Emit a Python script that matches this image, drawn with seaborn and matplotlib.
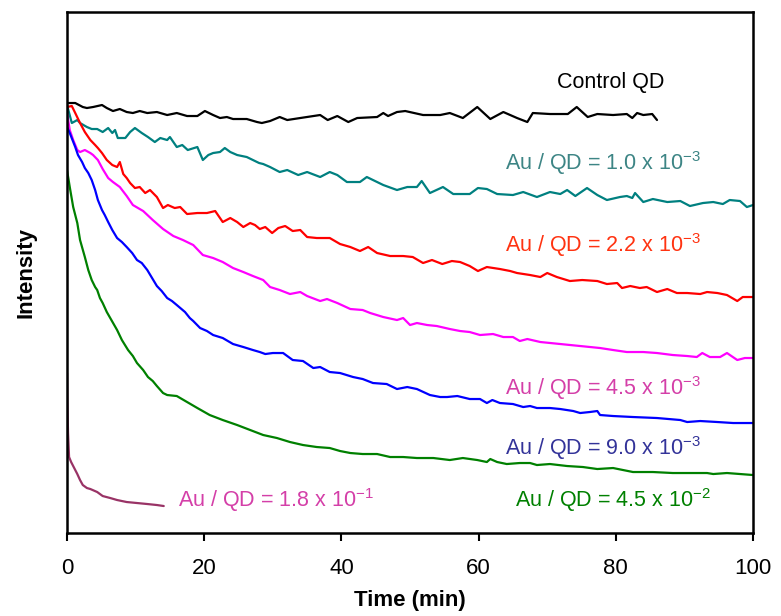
import matplotlib
matplotlib.use("Agg")
import matplotlib.pyplot as plt
import seaborn as sns
import pandas as pd

# ---------------- data (time in min, intensity in a.u.) ----------------
t_control = [0, 1.2, 2.3, 2.9, 3.8, 5.1, 5.8, 6.7, 7.7, 8.7, 9.6, 10.6, 11.7, 13.1, 14.6,
             16.0, 17.5, 19.0, 20.1, 21.3, 22.3, 23.3, 24.2, 26.2, 27.7, 28.4, 29.6, 31.0,
             32.1, 34.0, 36.9, 38.0, 39.4, 41.0, 42.3, 45.2, 46.1, 46.8, 48.1, 49.3, 51.9,
             54.4, 55.8, 57.7, 59.8, 61.7, 63.6, 65.6, 67.1, 67.9, 70.4, 73.0, 74.3, 75.9,
             77.3, 79.6, 81.6, 82.4, 83.1, 84.0, 85.3, 86.0]
i_control = [430, 430, 426, 425, 426, 428, 425, 422, 424, 421, 420, 422, 420, 421, 418,
             420, 417, 417, 422, 418, 415, 416, 414, 414, 411, 410, 412, 416, 413, 415,
             418, 413, 417, 411, 415, 416, 420, 417, 421, 422, 418, 418, 420, 415, 426,
             414, 421, 415, 411, 420, 419, 419, 426, 416, 419, 418, 419, 415, 420, 418,
             419, 413]

t_10e3 = [0, 0.7, 1.5, 1.9, 2.9, 3.6, 4.4, 5.2, 6.0, 6.6, 7.0, 7.4, 8.5, 9.2, 9.9, 10.9,
          11.8, 12.8, 13.6, 14.6, 15.0, 16.0, 16.8, 17.6, 19.0, 19.8, 20.6, 21.3, 22.3,
          23.0, 23.8, 24.8, 26.2, 27.1, 28.0, 28.6, 29.6, 31.0, 32.1, 33.7, 35.0, 36.9,
          38.3, 39.4, 40.8, 42.7, 43.7, 46.1, 48.1, 49.6, 51.0, 51.7, 52.9, 54.8, 56.3,
          58.7, 59.9, 61.2, 62.7, 65.0, 66.5, 68.5, 70.4, 71.9, 72.9, 74.1, 75.8, 77.3,
          78.7, 80.6, 81.6, 82.4, 82.8, 84.0, 85.4, 87.5, 89.4, 90.8, 92.7, 94.2, 95.6,
          96.6, 98.1, 99.1, 100]
i_10e3 = [428, 410, 413, 410, 406, 404, 404, 401, 405, 400, 403, 395, 395, 401, 405, 400,
          396, 391, 395, 393, 396, 386, 388, 383, 386, 373, 378, 380, 381,
          385, 381, 378, 376, 373, 370, 369, 366, 361, 363, 358, 361, 356,
          361, 358, 351, 351, 356, 348, 343, 346, 346, 352, 340, 346, 339,
          339, 345, 344, 339, 338, 341, 336, 341, 339, 343, 337, 345, 338,
          333, 336, 337, 335, 340, 331, 334, 331, 332, 327, 330, 331, 329,
          333, 332, 326, 328]

t_22e3 = [0, 0.7, 1.2, 1.9, 2.6, 3.4, 4.1, 4.5, 5.1, 5.8, 6.6, 7.3, 7.7, 8.2, 8.7, 9.2,
          9.9, 10.6, 11.4, 12.1, 13.1, 14.0, 14.7, 15.7, 16.5, 17.5, 19.0, 20.4, 21.6,
          22.7, 23.8, 24.8, 25.7, 26.7, 27.4, 28.1, 28.9, 29.9, 30.8, 31.8, 32.9, 34.0,
          35.0, 36.4, 38.3, 39.8, 41.3, 42.7, 43.9, 45.2, 47.1, 49.0, 50.4, 51.9, 53.2,
          54.7, 56.1, 57.3, 58.7, 59.9, 61.2, 63.1, 64.6, 65.6, 67.5, 69.0, 70.0, 71.4,
          73.3, 75.1, 77.3, 78.7, 80.2, 80.9, 82.1, 83.5, 84.5, 86.0, 87.5, 88.9, 90.4,
          92.3, 93.3, 94.8, 96.2, 97.7, 98.5, 100]
i_22e3 = [426, 427, 420, 410, 401, 393, 388, 385, 380, 373, 368, 366, 371, 359, 355, 350,
          345, 346, 340, 343, 336, 325, 328, 325, 326, 319, 320, 320, 322,
          311, 315, 311, 306, 310, 308, 304, 306, 300, 305, 307, 302, 303,
          296, 295, 295, 289, 286, 282, 286, 280, 277, 277, 276, 270, 273,
          269, 272, 271, 267, 262, 266, 264, 262, 260, 258, 256, 260, 256,
          252, 253, 252, 249, 250, 245, 247, 245, 246, 241, 244, 240, 240,
          239, 241, 240, 238, 232, 236, 236]

t_45e3 = [0, 0.4, 0.9, 1.5, 1.9, 2.6, 3.4, 3.8, 4.5, 5.2, 6.0, 6.7, 7.7, 8.7, 9.6, 11.1,
          12.5, 14.0, 15.5, 16.9, 18.4, 19.8, 21.3, 22.7, 24.2, 25.7, 27.1, 28.6, 29.6,
          31.0, 32.5, 34.0, 35.0, 36.9, 37.9, 39.4, 41.3, 43.1, 44.2, 46.1, 48.1, 49.0,
          50.0, 51.0, 52.5, 53.9, 55.8, 57.3, 58.7, 60.2, 62.1, 63.6, 65.0, 66.0, 67.1,
          69.0, 71.9, 74.8, 77.7, 79.6, 81.6, 84.0, 86.0, 88.3, 90.4, 91.8, 92.6, 93.7,
          95.2, 96.2, 97.7, 98.8, 100]
i_45e3 = [420, 403, 393, 383, 381, 383, 380, 378, 373, 364, 355, 351, 346, 337, 328, 322,
          313, 304, 297, 293, 288, 278, 275, 271, 265, 261, 257, 253, 246,
          243, 239, 241, 237, 232, 234, 230, 224, 223, 220, 216, 213, 215,
          208, 210, 208, 207, 204, 202, 201, 198, 199, 196, 196, 192, 194,
          191, 189, 187, 185, 183, 181, 181, 180, 178, 177, 176, 180, 176,
          176, 180, 173, 175, 175]

t_90e3 = [0, 0.4, 1.2, 1.6, 2.2, 2.6, 3.1, 3.6, 4.1, 4.5, 5.1, 5.5, 6.0, 6.6, 7.3, 8.0,
          8.7, 9.5, 10.2, 10.9, 11.7, 12.4, 13.1, 13.8, 14.6, 15.3, 16.0, 17.2, 17.9,
          18.4, 19.4, 20.4, 21.3, 22.7, 24.2, 25.7, 27.1, 28.1, 28.9, 30.0, 31.5, 32.9,
          34.4, 35.9, 36.9, 38.3, 39.8, 41.7, 43.1, 44.6, 46.6, 48.1, 49.6, 51.0, 52.9,
          54.4, 55.4, 56.9, 58.7, 60.2, 61.2, 62.0, 63.1, 65.0, 66.5, 67.5, 68.5, 70.4,
          71.9, 73.8, 74.8, 76.2, 77.3, 77.7, 79.6, 82.5, 86.0, 89.4, 90.4, 92.3, 94.8,
          97.1, 100]
i_90e3 = [406, 400, 386, 378, 371, 365, 360, 353, 343, 333, 323, 318, 311, 303, 295, 291,
          286, 280, 273, 270, 263, 255, 247, 242, 235, 232, 228, 221, 215,
          212, 205, 202, 198, 195, 189, 186, 183, 181, 179, 180, 180, 173,
          172, 165, 166, 161, 160, 156, 154, 150, 149, 144, 146, 144, 138,
          136, 136, 137, 134, 134, 130, 133, 130, 129, 126, 127, 125, 125,
          124, 122, 120, 121, 122, 118, 117, 116, 115, 113, 111, 112, 111,
          110, 110]

t_45e2 = [0, 0.4, 0.9, 1.5, 1.9, 2.6, 3.1, 3.6, 4.1, 4.4, 4.8, 5.2, 5.8, 6.3, 7.3, 8.0,
          8.9, 9.6, 10.2, 11.1, 11.8, 12.5, 13.1, 14.0, 14.6, 16.0, 17.5, 19.0, 20.8,
          22.7, 24.8, 26.7, 28.6, 30.6, 32.5, 34.4, 36.4, 38.3, 39.8, 41.3, 43.1, 45.2,
          47.1, 49.0, 51.0, 53.4, 55.8, 57.7, 59.8, 61.2, 61.7, 62.7, 64.1, 66.0, 67.5,
          68.5, 70.4, 72.9, 75.2, 77.3, 79.6, 82.5, 85.4, 88.3, 91.3, 93.3, 94.2, 96.2,
          98.1, 100]
i_45e2 = [363, 346, 326, 310, 293, 276, 263, 253, 246, 243, 235, 230, 221, 215, 203, 193,
          183, 177, 170, 163, 156, 152, 147, 140, 138, 137, 131, 125, 118,
          113, 108, 103, 98, 95, 91, 88, 86, 85, 82, 80, 79, 79,
          76, 76, 75, 75, 73, 75, 73, 71, 74, 71, 69, 70, 70,
          68, 69, 67, 66, 64, 65, 61, 61, 60, 60, 60, 59, 60,
          59, 58]

t_18e1 = [0, 0.05, 0.15, 0.3, 0.6, 0.9, 1.5, 1.9, 2.3, 2.9, 3.4, 4.4, 5.2, 6.3, 7.3, 8.7,
          10.2, 11.7, 13.1, 14.1]
i_18e1 = [160, 133, 100, 76, 71, 67, 59, 53, 48, 45, 44, 41, 37, 35, 33, 31,
          30, 29, 28, 27]

series_names = ["Control QD", "1.0e-3", "2.2e-3", "4.5e-3", "9.0e-3", "4.5e-2", "1.8e-1"]
series_t = [t_control, t_10e3, t_22e3, t_45e3, t_90e3, t_45e2, t_18e1]
series_i = [i_control, i_10e3, i_22e3, i_45e3, i_90e3, i_45e2, i_18e1]
line_colors = ["#000000", "#008080", "#ff0000", "#ff00ff", "#0000ff", "#008000", "#993366"]

labels = ["Control QD",
          "Au / QD = 1.0 x 10$^{-3}$",
          "Au / QD = 2.2 x 10$^{-3}$",
          "Au / QD = 4.5 x 10$^{-3}$",
          "Au / QD = 9.0 x 10$^{-3}$",
          "Au / QD = 4.5 x 10$^{-2}$",
          "Au / QD = 1.8 x 10$^{-1}$"]
label_colors = ["#000000", "#3d8585", "#ff3311", "#d43fa8", "#333399", "#008000", "#d43fa8"]
label_pos = [(71.4, 445), (63.8, 363), (63.8, 281), (63.8, 138), (63.8, 78), (65.3, 26), (16.2, 26)]

# ---------------- plot ----------------
sns.set_style("white")
plt.rcParams["font.family"] = ["Liberation Sans", "DejaVu Sans"]
plt.rcParams["mathtext.default"] = "regular"
plt.rcParams["text.color"] = "black"
plt.rcParams["axes.labelcolor"] = "black"
plt.rcParams["xtick.color"] = "black"
plt.rcParams["ytick.color"] = "black"
plt.rcParams["xtick.bottom"] = True
plt.rcParams["xtick.major.size"] = 6
plt.rcParams["xtick.major.width"] = 1.5
plt.rcParams["xtick.direction"] = "out"

frames = []
for name, tt, ii in zip(series_names, series_t, series_i):
    frames.append(pd.DataFrame({"Time (min)": tt, "Intensity": ii, "series": name}))
df = pd.concat(frames, ignore_index=True)

fig = plt.figure(figsize=(7.81, 6.16), dpi=100)
ax = fig.add_axes([0.0858, 0.1347, 0.8784, 0.8458])

sns.lineplot(data=df, x="Time (min)", y="Intensity", hue="series",
             hue_order=series_names, palette=line_colors, estimator=None,
             sort=False, linewidth=1.6, legend=False, ax=ax)

for lab, col, (x, y) in zip(labels, label_colors, label_pos):
    ax.text(x, y, lab, color=col, fontsize=15.5, ha="left", va="baseline")

ax.set_xlim(0, 100)
ax.set_ylim(0, 521)
ax.set_xticks([0, 20, 40, 60, 80, 100])
ax.set_yticks([])
ax.tick_params(axis="x", which="major", direction="out", length=6, width=1.5,
               labelsize=16, bottom=True, pad=12, colors="black")
for sp in ax.spines.values():
    sp.set_linewidth(1.8)
    sp.set_color("black")
ax.set_xlabel("Time (min)", fontsize=16, fontweight="bold", labelpad=8, color="black")
ax.set_ylabel("Intensity", fontsize=16, fontweight="bold", labelpad=22, color="black")

fig.savefig("out.png", dpi=100)
